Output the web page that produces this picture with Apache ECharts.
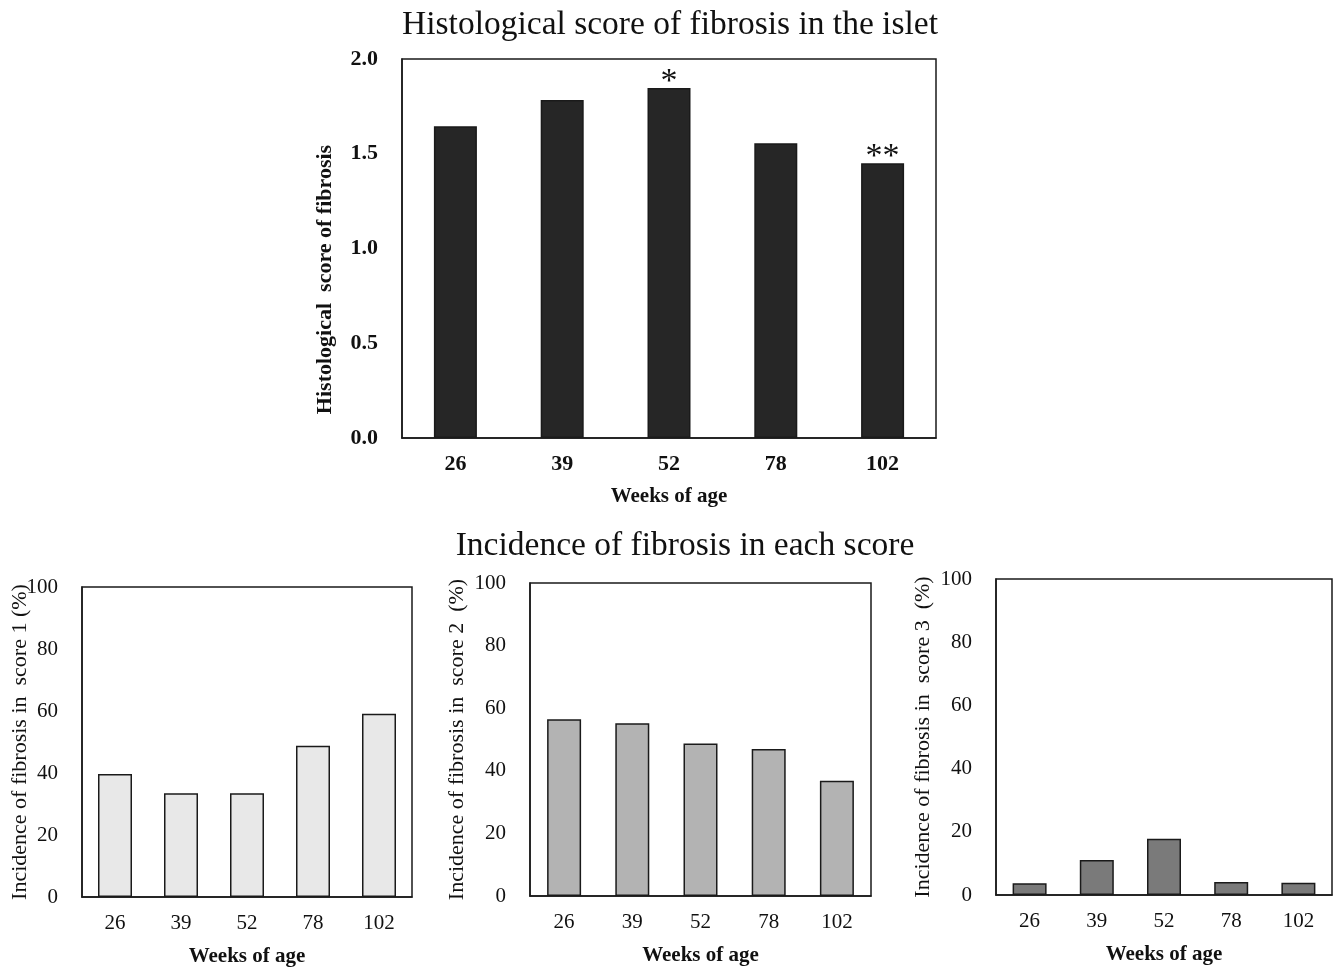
<!DOCTYPE html>
<html>
<head>
<meta charset="utf-8">
<script src="https://cdn.jsdelivr.net/npm/echarts@6/dist/echarts.min.js"></script>
<style>
  html, body { margin: 0; padding: 0; background: #fff; }
  #chart { width: 1338px; height: 967px; }
</style>
</head>
<body>
<div id="chart"></div>
<script>
const weeks = ['26', '39', '52', '78', '102']
const meanScore = [1.645, 1.783, 1.847, 1.556, 1.450]
const scoreMarks = ['', '', '*', '', '**']
const score1 = [39.7, 33.5, 33.5, 48.8, 59.1]
const score2 = [56.5, 55.2, 48.7, 47.0, 36.8]
const score3 = [3.7, 11.1, 17.8, 4.1, 3.9]

const font = 'Liberation Serif'
const ink = '#1a1a1a'

const chart = echarts.init(document.getElementById('chart'))

function xAxis(gridIndex, bold) {
  return {
    type: 'category',
    gridIndex: gridIndex,
    data: weeks,
    name: 'Weeks of age',
    nameLocation: 'middle',
    nameGap: bold ? 48 : 49,
    nameMoveOverlap: false,
    nameTextStyle: { fontFamily: font, fontSize: 21, fontWeight: 'bold', color: '#111' },
    axisLine: { lineStyle: { color: ink, width: 1.5 } },
    axisTick: { show: false },
    axisLabel: { fontFamily: font, fontSize: bold ? 22 : 21, fontWeight: bold ? 'bold' : 'normal', color: '#111', margin: bold ? 15 : 16 },
    splitLine: { show: false }
  }
}

function yAxis(gridIndex, name, opts) {
  return Object.assign({
    type: 'value',
    gridIndex: gridIndex,
    min: 0,
    max: 100,
    interval: 20,
    name: name,
    nameLocation: 'middle',
    nameGap: 62,
    nameMoveOverlap: false,
    nameTextStyle: { fontFamily: font, fontSize: 22, color: '#111' },
    axisLine: { show: true, lineStyle: { color: ink, width: 1.5 } },
    axisTick: { show: false },
    axisLabel: { fontFamily: font, fontSize: 21, color: '#111', margin: 24 },
    splitLine: { show: false }
  }, opts || {})
}

function bars(index, values, color, width) {
  return {
    type: 'bar',
    xAxisIndex: index,
    yAxisIndex: index,
    data: values,
    barWidth: width,
    itemStyle: { color: color, borderColor: ink, borderWidth: 1.5 }
  }
}

const option = {
  animation: false,
  title: [
    {
      text: 'Histological score of fibrosis in the islet',
      left: 665,
      top: 3,
      textAlign: 'center',
      textStyle: { fontFamily: font, fontSize: 33.5, fontWeight: 'normal', color: '#111' }
    },
    {
      text: 'Incidence of fibrosis in each score',
      left: 680,
      top: 524,
      textAlign: 'center',
      textStyle: { fontFamily: font, fontSize: 33.5, fontWeight: 'normal', color: '#111' }
    }
  ],
  grid: [
    { left: 402, top: 59, width: 534, height: 379, show: true, borderColor: ink, borderWidth: 1.5, outerBoundsMode: 'none' },
    { left: 82, top: 587, width: 330, height: 310, show: true, borderColor: ink, borderWidth: 1.5, outerBoundsMode: 'none' },
    { left: 530, top: 583, width: 341, height: 313, show: true, borderColor: ink, borderWidth: 1.5, outerBoundsMode: 'none' },
    { left: 996, top: 579, width: 336, height: 316, show: true, borderColor: ink, borderWidth: 1.5, outerBoundsMode: 'none' }
  ],
  xAxis: [xAxis(0, true), xAxis(1), xAxis(2), xAxis(3)],
  yAxis: [
    yAxis(0, 'Histological  score of fibrosis', {
      max: 2,
      interval: 0.5,
      nameGap: 66,
      nameTextStyle: { fontFamily: font, fontSize: 22, fontWeight: 'bold', color: '#111', padding: [0, 62, 0, 0] },
      axisLabel: { fontFamily: font, fontSize: 22, fontWeight: 'bold', color: '#111', margin: 24, formatter: (v) => v.toFixed(1) }
    }),
    yAxis(1, 'Incidence of fibrosis in  score 1 (%)', { nameGap: 51 }),
    yAxis(2, 'Incidence of fibrosis in  score 2  (%)'),
    yAxis(3, 'Incidence of fibrosis in  score 3  (%)')
  ],
  series: [
    Object.assign(bars(0, meanScore, '#262626', 43), {
      label: {
        show: true,
        position: 'top',
        distance: -11,
        formatter: (p) => scoreMarks[p.dataIndex],
        fontFamily: font,
        fontSize: 34,
        color: '#111'
      }
    }),
    bars(1, score1, '#e8e8e8', 34),
    bars(2, score2, '#b3b3b3', 34),
    bars(3, score3, '#7a7a7a', 34)
  ]
}

chart.setOption(option)
</script>
</body>
</html>
